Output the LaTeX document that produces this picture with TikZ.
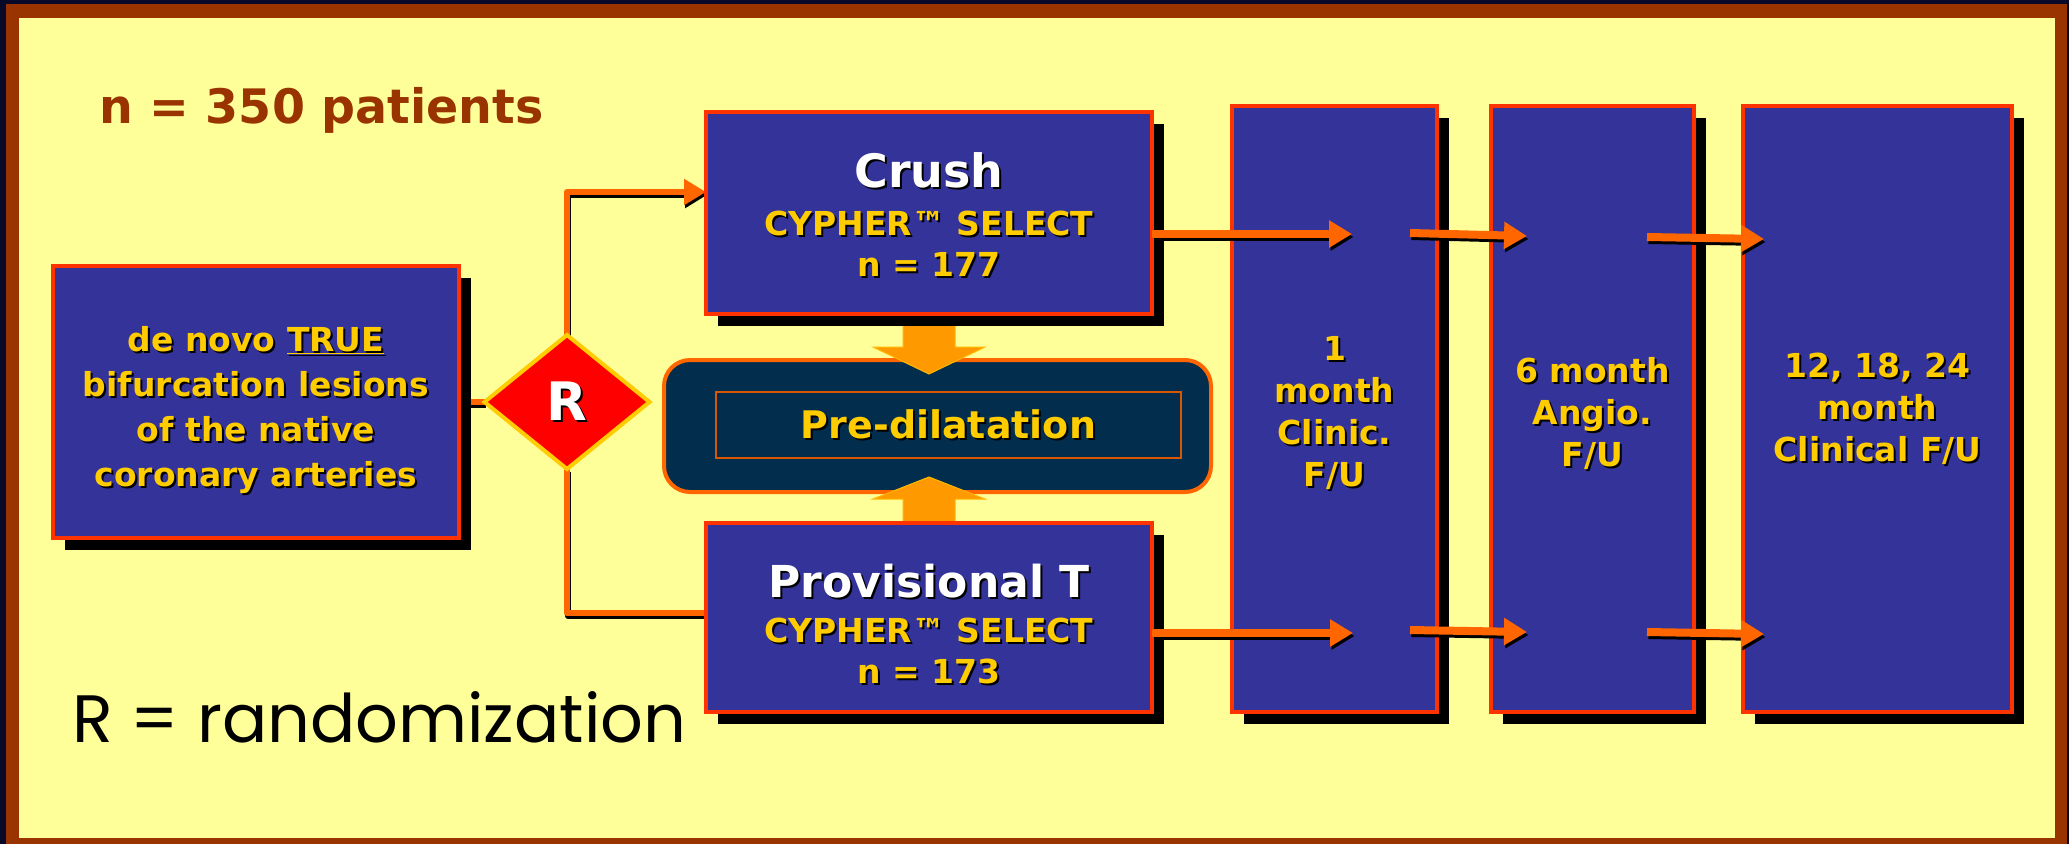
\documentclass[tikz,border=0pt]{standalone}
\usepackage{fontspec}
\setmainfont{DejaVu Sans}
\newfontfamily\handfont{Poppins}
\usetikzlibrary{shapes.geometric,arrows.meta,shadows}
\definecolor{navyo}{RGB}{8,8,40}
\definecolor{frameb}{HTML}{993300}
\definecolor{bgy}{HTML}{FFFF99}
\definecolor{boxb}{HTML}{333399}
\definecolor{boxr}{HTML}{FF3300}
\definecolor{gold}{HTML}{FFCC00}
\definecolor{lineo}{HTML}{FF6600}
\definecolor{blocko}{HTML}{FF9900}
\definecolor{predark}{HTML}{032D4D}
\newcommand\shd[1]{\leavevmode\rlap{\kern2pt\raisebox{-2pt}{\color{black}#1}}#1}
\pgfdeclarelayer{bg}
\pgfdeclarelayer{mid}
\pgfsetlayers{bg,mid,main}
\tikzset{
  fbox/.style={draw=boxr, line width=4pt, fill=boxb, inner sep=0pt, outer sep=0pt,
    drop shadow={shadow xshift=12pt, shadow yshift=-12pt, opacity=1, fill=black}},
  btext/.style={text=gold, align=center, inner sep=0pt},
  bigfont/.style={font=\fontsize{33}{41}\selectfont\bfseries},
  midfont/.style={font=\fontsize{33}{45}\selectfont\bfseries},
  colfont/.style={font=\fontsize{33}{42}\selectfont\bfseries},
  conn/.style={draw=lineo, line width=6pt, line join=round},
  lshadow/.style={draw=black, line width=6pt, line join=round,
    transform canvas={shift={(1pt,-3pt)}}},
  rarrow/.style={draw=lineo, line width=8pt, -{Triangle[length=23pt,width=26pt]}},
  rshadow/.style={draw=black, line width=8pt, -{Triangle[length=23pt,width=26pt]},
    transform canvas={shift={(1.5pt,-3pt)}}},
  blockarrow/.style={fill=blocko, draw=blocko!70!yellow, line width=1pt, line join=miter},
}
\begin{document}
\begin{tikzpicture}[x=1pt,y=-1pt]
\useasboundingbox (0,0) rectangle (2069,844);
\begin{pgfonlayer}{bg}
  \fill[navyo] (0,0) rectangle (2069,844);
  \fill[frameb] (6,4) rectangle (2067,844);
  \fill[bgy] (19,18) rectangle (2055,838);
\end{pgfonlayer}

% texts
\node[anchor=base west, text=frameb, inner sep=0pt,
  font=\fontsize{47.5}{48}\selectfont\bfseries] (npat) at (99,123) {n = 350 patients};
\node[anchor=base west, text=black, inner sep=0pt,
  font=\handfont\fontsize{67}{67}\selectfont] (rdef) at (72,742) {R = randomization};

% boxes
\node[fbox, minimum width=406pt, minimum height=272pt] (lb) at (256,402) {};
\node[btext, midfont] (lbt) at ([yshift=-9pt]lb.center)
  {\shd{de novo \underline{TRUE}}\\ \shd{bifurcation lesions}\\ \shd{of the native}\\ \shd{coronary arteries}};
\node[fbox, minimum width=446pt, minimum height=202pt] (crush) at (929,213) {};
\node[btext, bigfont] (crusht) at ([yshift=-3pt]crush.center)
  {{\fontsize{46}{48}\selectfont\color{white}\shd{Crush}}\\[7pt] \shd{CYPHER™ SELECT}\\ \shd{n = 177}};
\node[fbox, minimum width=446pt, minimum height=189pt] (prov) at (929,617.5) {};
\node[btext, bigfont] (provt) at ([yshift=-8pt]prov.center)
  {{\fontsize{44}{48}\selectfont\color{white}\shd{Provisional T}}\\[4pt] \shd{CYPHER™ SELECT}\\ \shd{n = 173}};
\node[fbox, minimum width=205pt, minimum height=606pt] (b1) at (1334.5,409) {};
\node[btext, colfont] (b1t) at ([yshift=-5pt]b1.center)
  {\shd{1}\\ \shd{month}\\ \shd{Clinic.}\\ \shd{F/U}};
\node[fbox, minimum width=203pt, minimum height=606pt] (b2) at (1592.5,409) {};
\node[btext, colfont] (b2t) at ([yshift=-5pt]b2.center)
  {\shd{6 month}\\ \shd{Angio.}\\ \shd{F/U}};
\node[fbox, minimum width=269pt, minimum height=606pt] (b3) at (1877.5,409) {};
\node[btext, colfont] (b3t) at ([yshift=-1pt]b3.center)
  {\shd{12, 18, 24}\\ \shd{month}\\ \shd{Clinical F/U}};

% randomization diamond
\node[diamond, draw=gold, line width=4pt, fill=red, minimum width=165pt, minimum height=134pt,
  inner sep=0pt, outer sep=0pt, text=white, font=\fontsize{53}{53}\selectfont\bfseries] (R) at (567,402) {\shd{R}};

% pre-dilatation and block arrows
\begin{pgfonlayer}{mid}
  \node[draw=lineo, line width=4pt, fill=predark, rounded corners=26pt,
    minimum width=547pt, minimum height=132pt] (pre) at (937.5,426) {};
  \node[draw=lineo!85!black, line width=1.5pt, minimum width=465pt, minimum height=66pt,
    text=gold, font=\fontsize{38}{38}\selectfont\bfseries] (pretxt) at (948.5,425) {\shd{Pre-dilatation}};
  \path[blockarrow] (crush.south) ++(-26,0) -- ++(0,33) -- ++(-30,0) -- ++(56,27)
    -- ++(56,-27) -- ++(-30,0) -- ++(0,-33) -- cycle;
  \path[blockarrow] (prov.north) ++(-26,0) -- ++(0,-24) -- ++(-30,0) -- ++(56,-22)
    -- ++(56,22) -- ++(-30,0) -- ++(0,24) -- cycle;
\end{pgfonlayer}

% left connectors
\coordinate (cu) at (706,192);
\coordinate (cd) at (706,613);
\begin{pgfonlayer}{bg}
  \draw[lshadow] (lb.east) -- (R.west);
  \draw[conn] (lb.east) -- (R.west);
  \draw[lshadow, -{Triangle[length=22pt,width=25pt]}] (R.north) |- (cu);
  \draw[conn, -{Triangle[length=22pt,width=25pt]}] (R.north) |- (cu);
  \draw[lshadow] (R.south) |- (cd);
  \draw[conn] (R.south) |- (cd);
\end{pgfonlayer}

% follow-up arrows
\coordinate (t1) at (1352,234);
\coordinate (s2) at (1410,233);
\coordinate (t2) at (1527,236);
\coordinate (s3) at (1647,237);
\coordinate (t3) at (1764,239);
\coordinate (u1) at (1353,633);
\coordinate (v2) at (1410,630);
\coordinate (u2) at (1527,632);
\coordinate (v3) at (1647,632);
\coordinate (u3) at (1764,634);
\foreach \a/\b in {crush.east|-t1/t1, s2/t2, s3/t3, prov.east|-u1/u1, v2/u2, v3/u3}{
  \draw[rshadow] (\a) -- (\b);
  \draw[rarrow] (\a) -- (\b);
}
\end{tikzpicture}
\end{document}
